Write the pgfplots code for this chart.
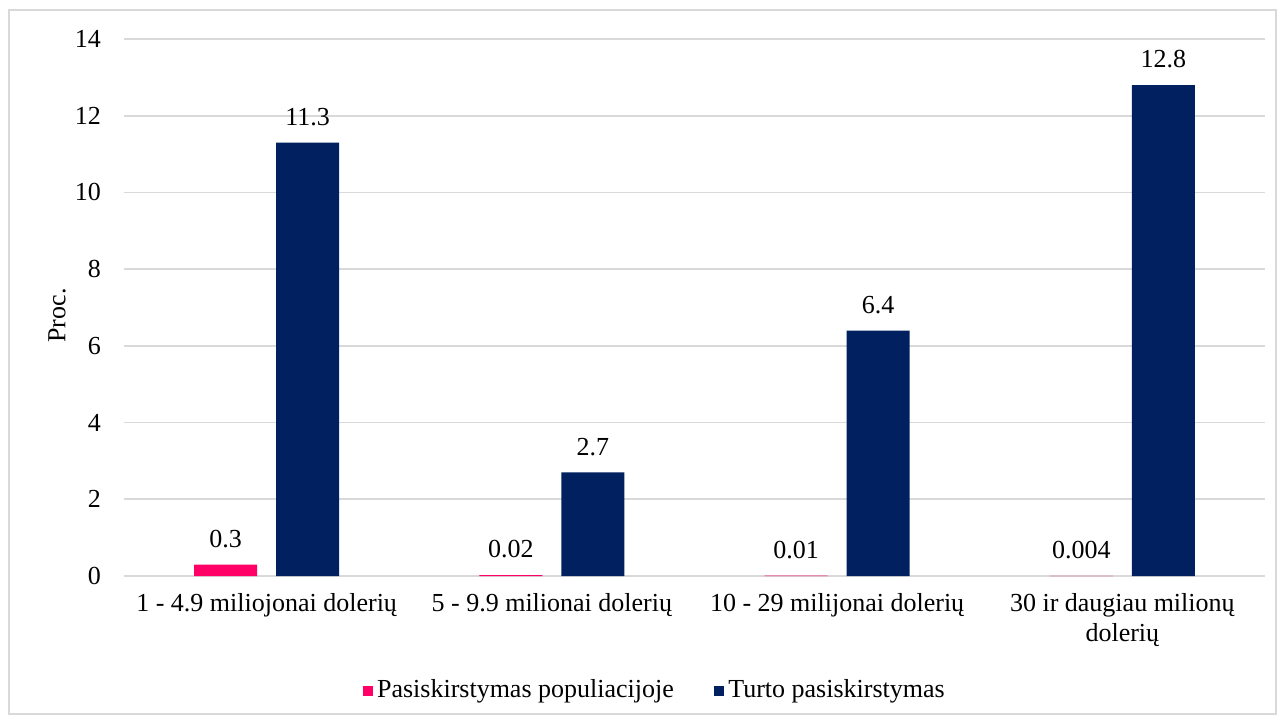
\documentclass[border=0pt]{standalone}
\usepackage{pgfplots}
\pgfplotsset{compat=1.18}
\usepackage{fontspec}
\setmainfont{Liberation Serif}
\definecolor{pinkbar}{HTML}{FF0066}
\definecolor{navybar}{HTML}{002060}
\definecolor{gridgray}{HTML}{D9D9D9}
\begin{document}
\fontsize{13}{15.5}\selectfont
\begin{tikzpicture}
\begin{axis}[
  scale only axis,
  width=570.5pt, height=268.5pt,
  xmin=-0.5, xmax=3.5, ymin=0, ymax=14,
  ytick={0,2,...,14},
  xtick={0,1,2,3},
  xticklabels={1 - 4.9 miliojonai dolerių, 5 - 9.9 milionai dolerių, 10 - 29 milijonai dolerių, {30 ir daugiau milionų\\dolerių}},
  xticklabel style={align=center, font=\fontsize{13}{15}\selectfont, yshift=-4pt},
  yticklabel style={font=\fontsize{13}{15}\selectfont, xshift=-7pt},
  /pgf/number format/assume math mode=true,
  major tick length=0pt,
  ymajorgrids, grid style={gridgray, line width=0.9pt},
  axis x line*=bottom, axis y line*=left,
  x axis line style={gridgray, line width=0.9pt, -},
  y axis line style={draw=none},
  ylabel={Proc.},
  ylabel style={font=\fontsize{13}{15}\selectfont, at={(rel axis cs:0,0.5)}, anchor=center, yshift=33.5pt, xshift=-4pt},
  ybar, bar width=31.5pt,
  point meta=explicit symbolic,
  nodes near coords,
  nodes near coords style={font=\fontsize{13}{15}\selectfont, yshift=4pt},
  legend columns=2,
  legend style={draw=none, at={(0.466,-0.214)}, anchor=center, font=\fontsize{13}{15}\selectfont,
    /tikz/every even column/.append style={column sep=18pt}},
  legend image code/.code={\fill[#1] (0pt,-2.6pt) rectangle (5.2pt,2.6pt);},
]
\addplot[fill=pinkbar, draw=none, bar shift=-20.5pt] coordinates {(0,0.3) [0.3] (1,0.02) [0.02] (2,0.01) [0.01] (3,0.004) [0.004]};
\addplot[fill=navybar, draw=none, bar shift=20.5pt] coordinates {(0,11.3) [11.3] (1,2.7) [2.7] (2,6.4) [6.4] (3,12.8) [12.8]};
\legend{Pasiskirstymas populiacijoje, Turto pasiskirstymas}
\end{axis}
\draw[gridgray, line width=0.8pt] ([shift={(-57.5pt,-69pt)}]current axis.south west) rectangle ([shift={(5.5pt,14.5pt)}]current axis.north east);
\path[use as bounding box] ([shift={(-62pt,-74pt)}]current axis.south west) rectangle ([shift={(10pt,19.5pt)}]current axis.north east);
\end{tikzpicture}
\end{document}
